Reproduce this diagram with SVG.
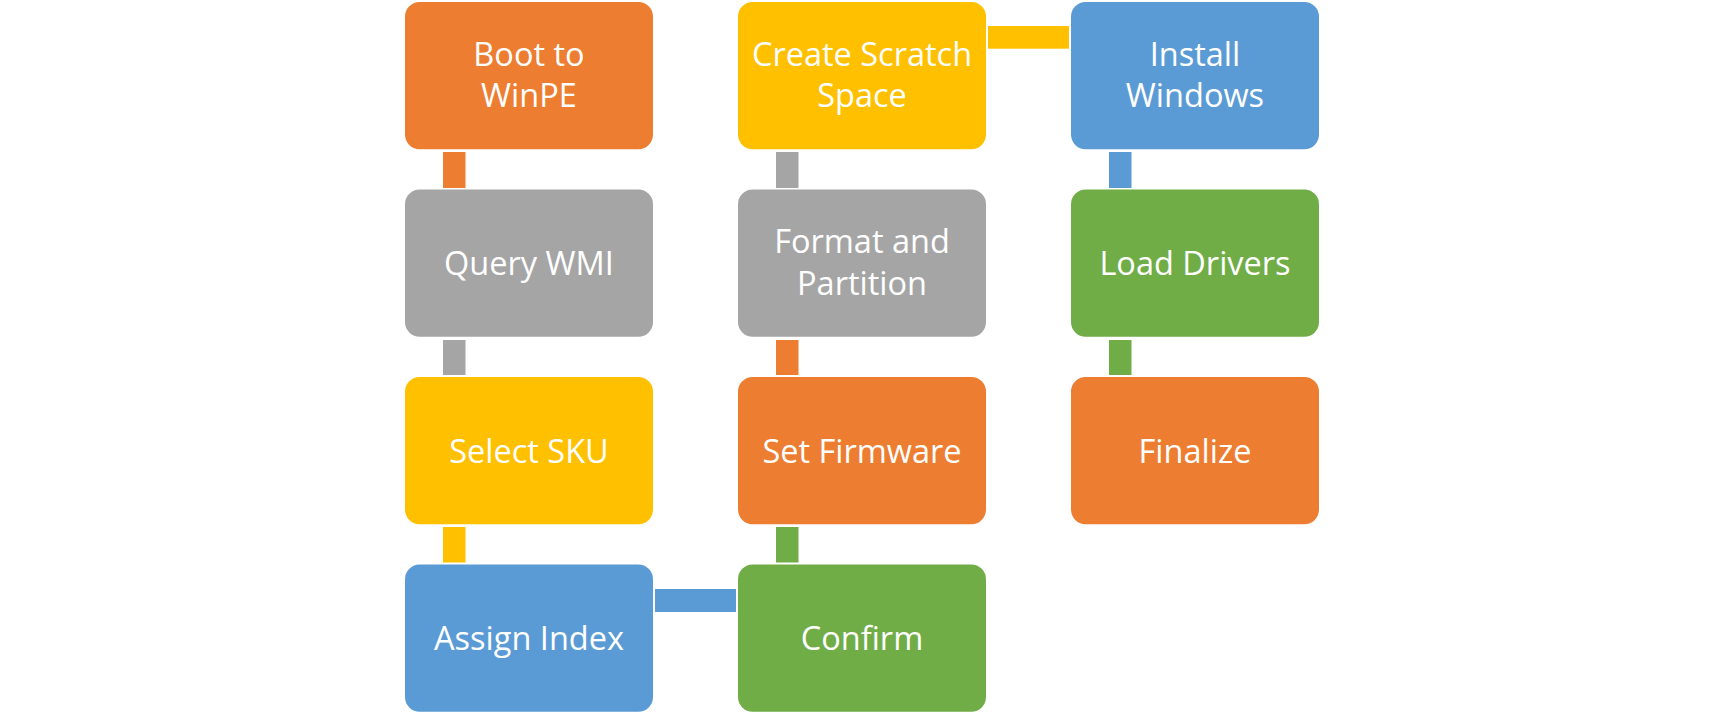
<svg xmlns="http://www.w3.org/2000/svg" width="1725" height="715" viewBox="0 0 1725 715">
<style>
.box{stroke:none}
.t{font-family:"Open Sans","Liberation Sans",sans-serif;font-size:32.5px;fill:#FFFFFF;text-anchor:middle}
.o{fill:#ED7D31}.g{fill:#A5A5A5}.y{fill:#FFC000}.b{fill:#5B9BD5}.gr{fill:#70AD47}
</style>
<rect width="1725" height="715" fill="#FFFFFF"/>
<g id="connectors">
<rect class="o" x="443" y="152" width="22.5" height="36"/>
<rect class="g" x="443" y="340" width="22.5" height="35"/>
<rect class="y" x="443" y="527" width="22.5" height="35.5"/>
<rect class="b" x="655" y="589" width="81" height="23"/>
<rect class="gr" x="776" y="527" width="22.5" height="35.5"/>
<rect class="o" x="776" y="340" width="22.5" height="35"/>
<rect class="g" x="776" y="152" width="22.5" height="36"/>
<rect class="y" x="988" y="26" width="81" height="22.7"/>
<rect class="b" x="1109" y="152" width="22.5" height="36"/>
<rect class="gr" x="1109" y="340" width="22.5" height="35"/>
</g>
<g id="n1"><rect class="box o" x="405" y="2" width="248" height="147.3" rx="14.7"/><text class="t" x="529" y="65.5">Boot to</text><text class="t" x="529" y="107">WinPE</text></g>
<g id="n2"><rect class="box g" x="405" y="189.5" width="248" height="147.3" rx="14.7"/><text class="t" x="529" y="275">Query WMI</text></g>
<g id="n3"><rect class="box y" x="405" y="377" width="248" height="147.3" rx="14.7"/><text class="t" x="529" y="462.5">Select SKU</text></g>
<g id="n4"><rect class="box b" x="405" y="564.5" width="248" height="147.3" rx="14.7"/><text class="t" x="529" y="650">Assign Index</text></g>
<g id="n5"><rect class="box gr" x="738" y="564.5" width="248" height="147.3" rx="14.7"/><text class="t" x="862" y="650">Confirm</text></g>
<g id="n6"><rect class="box o" x="738" y="377" width="248" height="147.3" rx="14.7"/><text class="t" x="862" y="462.5">Set Firmware</text></g>
<g id="n7"><rect class="box g" x="738" y="189.5" width="248" height="147.3" rx="14.7"/><text class="t" x="862" y="253">Format and</text><text class="t" x="862" y="294.5">Partition</text></g>
<g id="n8"><rect class="box y" x="738" y="2" width="248" height="147.3" rx="14.7"/><text class="t" x="862" y="65.5">Create Scratch</text><text class="t" x="862" y="107">Space</text></g>
<g id="n9"><rect class="box b" x="1071" y="2" width="248" height="147.3" rx="14.7"/><text class="t" x="1195" y="65.5">Install</text><text class="t" x="1195" y="107">Windows</text></g>
<g id="n10"><rect class="box gr" x="1071" y="189.5" width="248" height="147.3" rx="14.7"/><text class="t" x="1195" y="275">Load Drivers</text></g>
<g id="n11"><rect class="box o" x="1071" y="377" width="248" height="147.3" rx="14.7"/><text class="t" x="1195" y="462.5">Finalize</text></g>
</svg>
